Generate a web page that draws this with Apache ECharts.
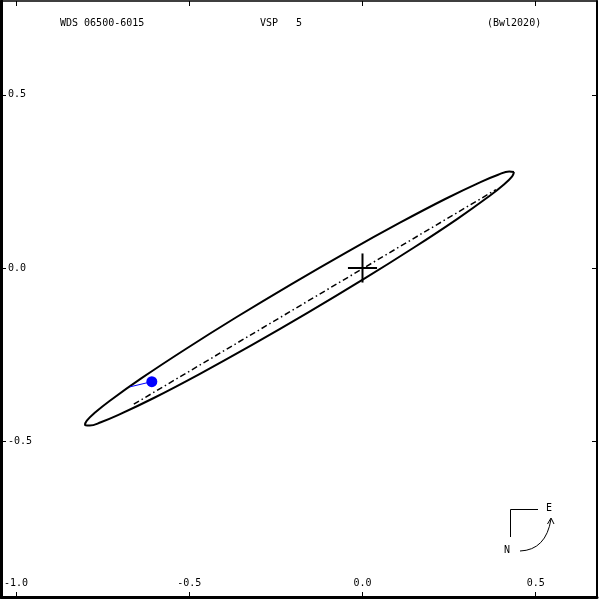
<!DOCTYPE html>
<html>
<head>
<meta charset="utf-8">
<script src="https://cdn.jsdelivr.net/npm/echarts@6/dist/echarts.min.js"></script>
<style>html,body{margin:0;padding:0;background:#fff;}#chart{width:600px;height:600px;}</style>
</head>
<body>
<div id="chart"></div>
<script>
// Tick labels
var xTicks = [-1.0, -0.5, 0.0, 0.5];
var yTicks = [0.5, 0.0, -0.5];

// Apparent orbit (ellipse) points [x, y]
var orbitX = [0.4372, 0.4236, 0.3916, 0.3422, 0.2388, 0.1068, -0.0450, -0.2060, -0.3654, -0.5122, -0.6366, -0.7300, -0.7718, -0.7956, -0.8008,
              -0.7872, -0.7552, -0.7058, -0.6024, -0.4704, -0.3186, -0.1576, 0.0018, 0.1486, 0.2730, 0.3664, 0.4082, 0.4320, 0.4372];
var orbitY = [0.2771, 0.2787, 0.2691, 0.2487, 0.1992, 0.1301, 0.0461, -0.0470, -0.1429, -0.2351, -0.3172, -0.3837, -0.4171, -0.4405, -0.4531,
              -0.4547, -0.4451, -0.4247, -0.3752, -0.3061, -0.2221, -0.1290, -0.0331, 0.0591, 0.1412, 0.2077, 0.2411, 0.2645, 0.2771];

// Line of nodes
var nodesX = [-0.660, 0.385];
var nodesY = [-0.393, 0.226];

// Primary star cross (arm ends)
var crossH = [[-0.042, 0], [0.042, 0]];
var crossV = [[0, 0.042], [0, -0.042]];

// Measurement (blue dot) and its residual line to the orbit
var measX = [-0.608];
var measY = [-0.328];
var residX = [-0.608, -0.671];
var residY = [-0.328, -0.343];

function zip(a, b) { return a.map(function (v, i) { return [v, b[i]]; }); }

var MONO = '"DejaVu Sans Mono", "Liberation Mono", monospace';
var chart = echarts.init(document.getElementById('chart'), null, {renderer: 'canvas'});

var xMin = -1.0433, xMax = 0.6768, yMin = -0.9495, yMax = 0.7706;
function fmt(v) { return Number(v).toFixed(1); }

var option = {
  backgroundColor: '#ffffff',
  animation: false,
  grid: {left: 1, right: 3, top: 1, bottom: 3, containLabel: false},
  xAxis: [
    {
      type: 'value', position: 'bottom', min: xMin, max: xMax,
      axisLine: {show: true, onZero: false, lineStyle: {color: '#000', width: 3}},
      axisTick: {show: true, inside: true, length: 5, customValues: xTicks, lineStyle: {color: '#000', width: 1}},
      axisLabel: {show: true, inside: true, customValues: xTicks, formatter: fmt, margin: 9,
        fontFamily: MONO, fontSize: 10, color: '#000'},
      splitLine: {show: false}
    },
    {
      type: 'value', position: 'top', min: xMin, max: xMax,
      axisLine: {show: true, onZero: false, lineStyle: {color: '#000', width: 1.5}},
      axisTick: {show: true, inside: true, length: 5, customValues: xTicks, lineStyle: {color: '#000', width: 1}},
      axisLabel: {show: false},
      splitLine: {show: false}
    }
  ],
  yAxis: [
    {
      type: 'value', position: 'left', min: yMin, max: yMax,
      axisLine: {show: true, onZero: false, lineStyle: {color: '#000', width: 3}},
      axisTick: {show: true, inside: true, length: 5, customValues: yTicks, lineStyle: {color: '#000', width: 1}},
      axisLabel: {show: true, inside: true, customValues: yTicks, formatter: fmt, margin: 7,
        fontFamily: MONO, fontSize: 10, color: '#000'},
      splitLine: {show: false}
    },
    {
      type: 'value', position: 'right', min: yMin, max: yMax,
      axisLine: {show: true, onZero: false, lineStyle: {color: '#000', width: 2}},
      axisTick: {show: true, inside: true, length: 5, customValues: yTicks, lineStyle: {color: '#000', width: 1}},
      axisLabel: {show: false},
      splitLine: {show: false}
    }
  ],
  series: [
    {
      type: 'line', name: 'orbit', data: zip(orbitX, orbitY), showSymbol: false, smooth: 0.4,
      lineStyle: {color: '#000', width: 2}, silent: true
    },
    {
      type: 'line', name: 'nodes', data: zip(nodesX, nodesY), showSymbol: false,
      lineStyle: {color: '#000', width: 1.5, type: [6, 3, 1.5, 3]}, silent: true
    },
    {
      type: 'line', name: 'crossH', data: crossH, showSymbol: false,
      lineStyle: {color: '#000', width: 2}, silent: true
    },
    {
      type: 'line', name: 'crossV', data: crossV, showSymbol: false,
      lineStyle: {color: '#000', width: 2}, silent: true
    },
    {
      type: 'line', name: 'resid', data: zip(residX, residY), showSymbol: false,
      lineStyle: {color: '#0000ff', width: 1}, silent: true
    },
    {
      type: 'scatter', name: 'meas', data: zip(measX, measY), symbol: 'circle', symbolSize: 11,
      itemStyle: {color: '#0000ff', opacity: 1}, silent: true
    }
  ],
  graphic: [
    {type: 'text', left: 60, top: 18, style: {text: 'WDS 06500-6015', font: '10px ' + MONO, fill: '#000'}},
    {type: 'text', left: 260, top: 18, style: {text: 'VSP   5', font: '10px ' + MONO, fill: '#000'}},
    {type: 'text', left: 487, top: 18, style: {text: '(Bwl2020)', font: '10px ' + MONO, fill: '#000'}},
    {type: 'polyline', shape: {points: [[538, 509.5], [510.5, 509.5], [510.5, 537]]}, style: {stroke: '#000', lineWidth: 1, fill: null}},
    {type: 'text', left: 546, top: 503, style: {text: 'E', font: '10px ' + MONO, fill: '#000'}},
    {type: 'text', left: 504, top: 545, style: {text: 'N', font: '10px ' + MONO, fill: '#000'}},
    {type: 'bezierCurve', shape: {x1: 520, y1: 551, x2: 551, y2: 519, cpx1: 546, cpy1: 550}, style: {stroke: '#000', lineWidth: 1, fill: null}},
    {type: 'polyline', shape: {points: [[547.5, 524], [551, 518], [554, 524]]}, style: {stroke: '#000', lineWidth: 1, fill: null}}
  ]
};
chart.setOption(option);
</script>
</body>
</html>
